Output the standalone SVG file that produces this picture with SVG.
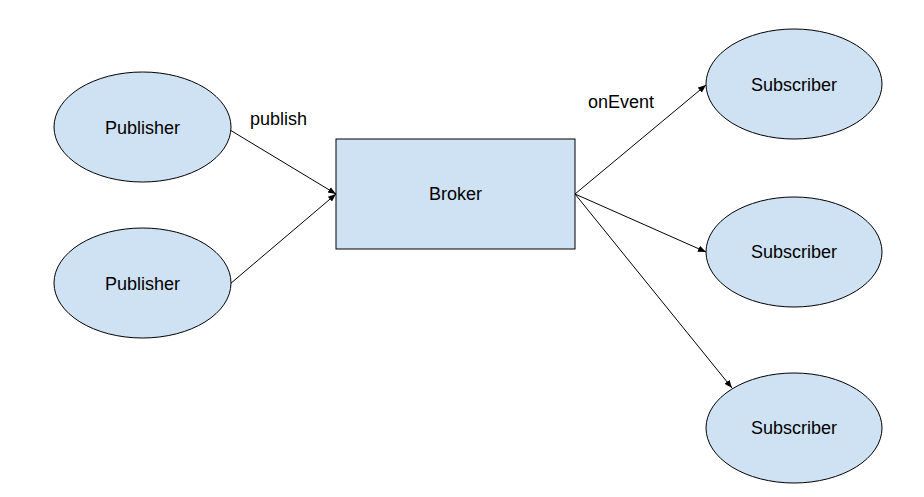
<svg xmlns="http://www.w3.org/2000/svg" width="924" height="497" viewBox="0 0 924 497">
<style>
.node{fill:#cfe2f3;stroke:#000;stroke-width:1}
.lbl{font-family:"Liberation Sans",Arial,sans-serif;font-size:18px;fill:#000;text-anchor:middle;dominant-baseline:central}
.edge{stroke:#000;stroke-width:1;fill:none;marker-end:url(#arr)}
.elbl{font-family:"Liberation Sans",Arial,sans-serif;font-size:18px;fill:#000}
</style>
<defs>
<marker id="arr" viewBox="0 0 10 10" refX="10" refY="5" markerWidth="8" markerHeight="8" markerUnits="userSpaceOnUse" orient="auto">
<path d="M0,1 L10,5 L0,9 z" fill="#000"/>
</marker>
</defs>
<rect width="924" height="497" fill="#fff"/>
<g id="connectors">
<line class="edge" x1="230" y1="130" x2="336" y2="194"/>
<line class="edge" x1="230" y1="284" x2="336" y2="194"/>
<line class="edge" x1="575" y1="194" x2="706" y2="85"/>
<line class="edge" x1="575" y1="194" x2="706" y2="252"/>
<line class="edge" x1="575" y1="194" x2="732" y2="388"/>
<text class="elbl" x="250" y="125">publish</text>
<text class="elbl" x="588" y="108">onEvent</text>
</g>
<g id="publisher1"><ellipse class="node" cx="142.5" cy="127" rx="88.5" ry="55"/><text class="lbl" x="142.5" y="128">Publisher</text></g>
<g id="publisher2"><ellipse class="node" cx="142.5" cy="283" rx="88.5" ry="55"/><text class="lbl" x="142.5" y="284">Publisher</text></g>
<g id="broker"><rect class="node" x="336" y="139" width="239" height="110"/><text class="lbl" x="455.5" y="194">Broker</text></g>
<g id="subscriber1"><ellipse class="node" cx="794" cy="84" rx="88" ry="55"/><text class="lbl" x="794" y="85">Subscriber</text></g>
<g id="subscriber2"><ellipse class="node" cx="794" cy="252" rx="88" ry="55"/><text class="lbl" x="794" y="252">Subscriber</text></g>
<g id="subscriber3"><ellipse class="node" cx="794" cy="428" rx="88" ry="55"/><text class="lbl" x="794" y="428">Subscriber</text></g>
</svg>
